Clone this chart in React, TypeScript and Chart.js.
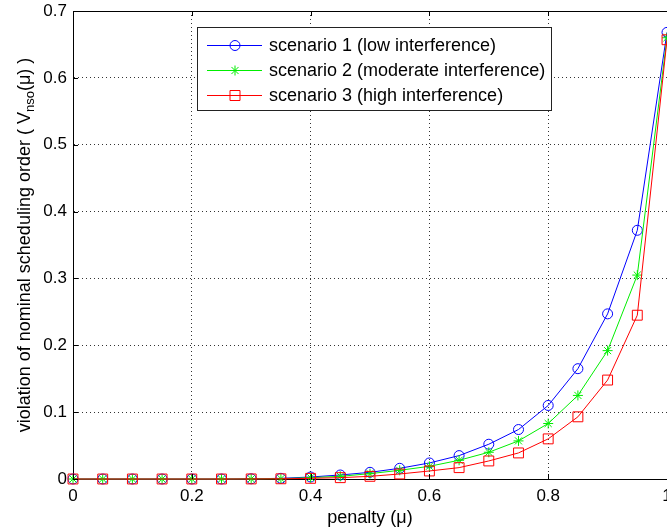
import React, { useEffect, useRef } from 'react';
import { Chart, registerables } from 'chart.js';

Chart.register(...registerables);

// ---- data ----
const penalty = [0, 0.05, 0.1, 0.15, 0.2, 0.25, 0.3, 0.35, 0.4, 0.45, 0.5, 0.55, 0.6, 0.65, 0.7, 0.75, 0.8, 0.85, 0.9, 0.95, 1];
const scenario1 = [0, 0, 0, 0, 0, 0, 0.0003, 0.001, 0.003, 0.006, 0.010, 0.016, 0.024, 0.035, 0.052, 0.074, 0.110, 0.165, 0.247, 0.372, 0.668];
const scenario2 = [0, 0, 0, 0, 0, 0, 0.0002, 0.0005, 0.002, 0.004, 0.008, 0.013, 0.019, 0.028, 0.040, 0.057, 0.083, 0.125, 0.192, 0.305, 0.660];
const scenario3 = [0, 0, 0, 0, 0, 0, 0.0001, 0.0003, 0.001, 0.002, 0.004, 0.0075, 0.012, 0.017, 0.027, 0.039, 0.060, 0.093, 0.148, 0.245, 0.657];
const seriesLabels = [
  'scenario 1 (low interference)',
  'scenario 2 (moderate interference)',
  'scenario 3 (high interference)',
];
const xTicks = [0, 0.2, 0.4, 0.6, 0.8, 1];
const yTicks = [0, 0.1, 0.2, 0.3, 0.4, 0.5, 0.6, 0.7];
const xTitle = 'penalty (μ)';
const yTitleMain = 'violation of nominal scheduling order ( V';
const yTitleSub = 'nso';
const yTitleTail = '(μ) )';

const FONT = "'Liberation Sans', Arial, Helvetica, sans-serif";
const colors = ['#0000ff', '#00ee00', '#ff0000'];
const pointStyles = ['circle', 'star', 'rect'];
const pointRadii = [5, 5, 7];

function drawMarker(ctx: CanvasRenderingContext2D, style: string, x: number, y: number, color: string) {
  ctx.save();
  ctx.strokeStyle = color;
  ctx.lineWidth = 1;
  ctx.beginPath();
  if (style === 'circle') {
    ctx.arc(x, y, 5, 0, Math.PI * 2);
  } else if (style === 'rect') {
    ctx.rect(x - 5, y - 5, 10, 10);
  } else {
    const r = 5;
    ctx.moveTo(x - r, y); ctx.lineTo(x + r, y);
    ctx.moveTo(x, y - r); ctx.lineTo(x, y + r);
    const d = r * Math.SQRT1_2;
    ctx.moveTo(x - d, y - d); ctx.lineTo(x + d, y + d);
    ctx.moveTo(x - d, y + d); ctx.lineTo(x + d, y - d);
  }
  ctx.stroke();
  ctx.restore();
}

const framePlugin = {
  id: 'matlabFrame',
  afterDatasetsDraw(chart: any) {
    const { ctx, chartArea } = chart;
    const { left, right, top, bottom } = chartArea;
    const xs = chart.scales.x;
    const ys = chart.scales.y;
    ctx.save();
    ctx.strokeStyle = '#000';
    ctx.lineWidth = 1;
    // top border
    ctx.beginPath();
    ctx.moveTo(left, Math.round(top) + 0.5);
    ctx.lineTo(right, Math.round(top) + 0.5);
    ctx.stroke();
    // inward ticks
    ctx.beginPath();
    xTicks.forEach((v) => {
      const px = Math.round(xs.getPixelForValue(v)) + 0.5;
      ctx.moveTo(px, bottom); ctx.lineTo(px, bottom - 5);
      ctx.moveTo(px, top); ctx.lineTo(px, top + 5);
    });
    yTicks.forEach((v) => {
      const py = Math.round(ys.getPixelForValue(v)) + 0.5;
      ctx.moveTo(left, py); ctx.lineTo(left + 5, py);
    });
    ctx.stroke();

    // legend box
    const bx = 197.5, by = 27.5, bw = 354, bh = 83;
    ctx.fillStyle = '#fff';
    ctx.fillRect(bx, by, bw, bh);
    ctx.strokeStyle = '#222';
    ctx.strokeRect(bx, by, bw, bh);
    const rows = [45, 70, 95];
    ctx.font = `18px ${FONT}`;
    ctx.textBaseline = 'middle';
    ctx.textAlign = 'left';
    chart.data.datasets.forEach((ds: any, i: number) => {
      const y = rows[i] + 0.5;
      ctx.strokeStyle = colors[i];
      ctx.lineWidth = 1;
      ctx.beginPath();
      ctx.moveTo(207, y); ctx.lineTo(262, y);
      ctx.stroke();
      drawMarker(ctx, pointStyles[i], 235, y, colors[i]);
      ctx.fillStyle = '#000';
      ctx.fillText(ds.label, 269, rows[i] + 1);
    });

    // y title with subscript
    ctx.save();
    ctx.translate(30, (top + bottom) / 2);
    ctx.rotate(-Math.PI / 2);
    ctx.fillStyle = '#000';
    ctx.textBaseline = 'alphabetic';
    ctx.textAlign = 'left';
    const mainFont = `18px ${FONT}`;
    const subFont = `13px ${FONT}`;
    ctx.font = mainFont;
    const w1 = ctx.measureText(yTitleMain).width;
    const w3 = ctx.measureText(yTitleTail).width;
    ctx.font = subFont;
    const w2 = ctx.measureText(yTitleSub).width;
    const total = w1 + w2 + w3;
    let cx = -total / 2;
    ctx.font = mainFont;
    ctx.fillText(yTitleMain, cx, 0);
    cx += w1;
    ctx.font = subFont;
    ctx.fillText(yTitleSub, cx, 4);
    cx += w2;
    ctx.font = mainFont;
    ctx.fillText(yTitleTail, cx, 0);
    ctx.restore();

    ctx.restore();
  },
};

export default function App() {
  const ref = useRef<HTMLCanvasElement | null>(null);
  useEffect(() => {
    if (!ref.current) return;
    const mk = (vals: number[]) => penalty.map((x, i) => ({ x, y: vals[i] }));
    const series = [scenario1, scenario2, scenario3];
    const chart = new Chart(ref.current, {
      type: 'line',
      data: {
        datasets: series.map((vals, i) => ({
          label: seriesLabels[i],
          data: mk(vals),
          borderColor: colors[i],
          backgroundColor: 'transparent',
          borderWidth: 1,
          pointStyle: pointStyles[i] as any,
          pointRadius: pointRadii[i],
          pointBorderColor: colors[i],
          pointBackgroundColor: 'transparent',
          pointBorderWidth: 1,
          fill: false,
          tension: 0,
          clip: false as any,
          order: 2 - i,
        })),
      },
      options: {
        animation: false,
        responsive: false,
        devicePixelRatio: 1,
        layout: { autoPadding: false, padding: { top: 11, left: 0, right: 0, bottom: 0 } },
        plugins: { legend: { display: false }, tooltip: { enabled: false } },
        scales: {
          x: {
            type: 'linear',
            min: 0,
            max: 1,
            afterBuildTicks: (s: any) => { s.ticks = xTicks.map((v) => ({ value: v })); },
            afterFit: (s: any) => { s.height = 50; s.paddingLeft = 0; s.paddingRight = 0; },
            ticks: {
              color: '#000',
              font: { family: FONT, size: 17 },
              padding: 7,
              maxRotation: 0,
              autoSkip: false,
              callback: (v: any) => String(Math.round(v * 10) / 10),
            },
            grid: {
              color: 'rgba(0,0,0,0.8)',
              lineWidth: 1,
              drawTicks: false,
            },
            border: { display: true, color: '#000', width: 1, dash: [1, 3] } as any,
            title: {
              display: true,
              text: xTitle,
              color: '#000',
              font: { family: FONT, size: 18 },
              padding: { top: 0, bottom: 0 },
            },
          },
          y: {
            type: 'linear',
            min: 0,
            max: 0.7,
            afterBuildTicks: (s: any) => { s.ticks = yTicks.map((v) => ({ value: v })); },
            afterFit: (s: any) => { s.width = 73; s.paddingTop = 0; s.paddingBottom = 0; },
            ticks: {
              color: '#000',
              font: { family: FONT, size: 17 },
              padding: 6,
              autoSkip: false,
              callback: (v: any) => String(Math.round(v * 10) / 10),
            },
            grid: {
              color: 'rgba(0,0,0,0.8)',
              lineWidth: 1,
              drawTicks: false,
            },
            border: { display: true, color: '#000', width: 1, dash: [1, 3] } as any,
          },
        },
      } as any,
      plugins: [framePlugin],
    });
    return () => chart.destroy();
  }, []);
  return (
    <div style={{ position: 'fixed', left: 0, top: 0, width: 667, height: 529, background: '#fff' }}>
      <canvas ref={ref} width={667} height={529} style={{ display: 'block' }} />
    </div>
  );
}
